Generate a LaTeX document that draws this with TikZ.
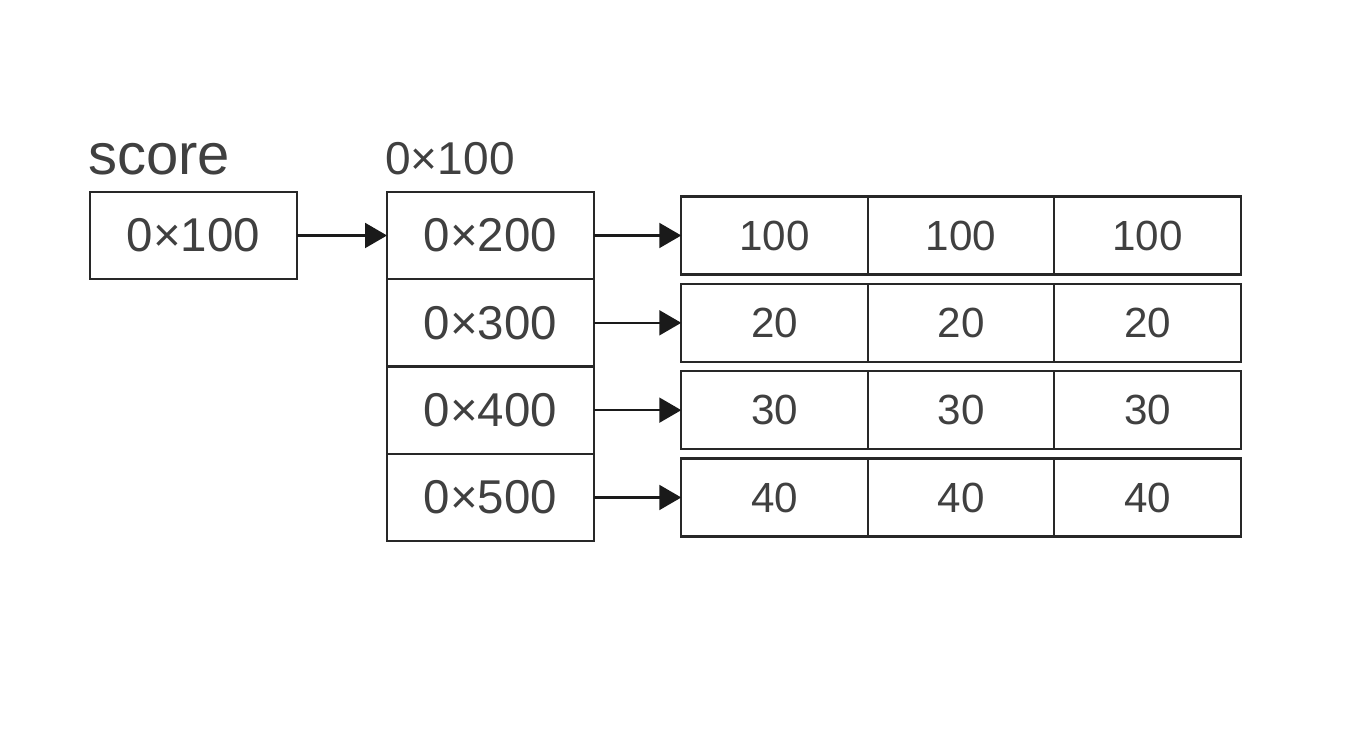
\documentclass[tikz,border=0pt]{standalone}
\usepackage{fontspec}
\setmainfont{Liberation Sans}
\usetikzlibrary{arrows.meta,positioning}
\definecolor{ink}{RGB}{40,40,40}
\definecolor{tip}{RGB}{26,26,26}
\definecolor{txt}{RGB}{64,64,64}

\tikzset{
  ptrcell/.style={draw=ink, line width=1.2pt, outer sep=0pt, inner sep=0pt,
    minimum width=4.14cm, minimum height=1.746cm, text=txt,
    font=\fontsize{27}{30}\selectfont},
  valcell/.style={draw=ink, line width=1.2pt, outer sep=0pt, inner sep=0pt,
    minimum width=3.73cm, minimum height=1.56cm, text=txt,
    font=\fontsize{24}{28}\selectfont},
  ptr/.style={tip, line width=1.2pt, -{Triangle[length=0.44cm,width=0.5cm]}},
}

\begin{document}
\begin{tikzpicture}[x=2cm,y=2cm]
    \useasboundingbox (0,0) rectangle (13.52,7.32);

    % the variable and its box
    \node[anchor=base west, text=txt, inner sep=0pt, font=\fontsize{33}{35}\selectfont] (scorename) at (0.88,5.57) {score};
    \node[ptrcell] (score) at (1.935,4.965) {0×100};

    % address of the pointer array
    \node[anchor=base west, text=txt, inner sep=0pt, font=\fontsize{26.2}{30}\selectfont] (arraddr) at (3.85,5.57) {0×100};

    % pointer array and the rows it points to
    \foreach \addr/\val [count=\i] in {200/100,300/20,400/30,500/40} {
        \node[ptrcell] (p\i) at (4.905,{4.965-(\i-1)*0.8733}) {0×\addr};
        \node[valcell] (v\i a) at (7.745,{4.965-(\i-1)*0.8733}) {\val};
        \node[valcell, right=0pt of v\i a] (v\i b) {\val};
        \node[valcell, right=0pt of v\i b] (v\i c) {\val};
        \draw[ptr] (p\i) -- (v\i a);
    }

    \draw[ptr] (score) -- (p1);

\end{tikzpicture}
\end{document}
